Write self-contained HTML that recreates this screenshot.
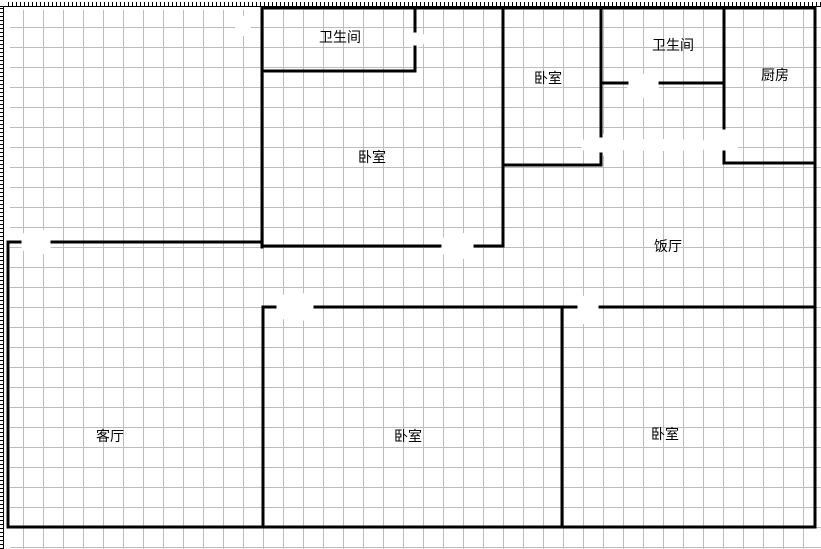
<!DOCTYPE html>
<html><head><meta charset="utf-8"><style>
html,body{margin:0;padding:0;background:#fff;}
svg{display:block;}
text{font-family:"Liberation Sans","Noto Sans CJK SC",sans-serif;font-size:14px;fill:#000;}
</style></head><body>
<svg width="821" height="549" xmlns="http://www.w3.org/2000/svg">
<defs>
<pattern id="g" x="3" y="7" width="20" height="20" patternUnits="userSpaceOnUse">
<path d="M0 0.5H20M0.5 0V20" stroke="#bdbdbd" stroke-width="1" fill="none"/>
</pattern>
<pattern id="rt" x="0" y="0" width="4" height="8" patternUnits="userSpaceOnUse">
<rect x="0" y="2" width="1" height="5" fill="#000"/>
</pattern>
<pattern id="rl" x="0" y="0" width="8" height="4" patternUnits="userSpaceOnUse">
<rect x="0" y="0" width="4" height="1" fill="#000"/>
</pattern>
</defs>
<rect width="821" height="549" fill="#fff"/>
<rect x="10" y="10" width="811" height="539" fill="url(#g)"/>
<g fill="#fff">
<ellipse cx="36" cy="242" rx="16" ry="14"/>
<ellipse cx="457" cy="246" rx="17" ry="14"/>
<ellipse cx="295" cy="307" rx="20" ry="15"/>
<ellipse cx="588" cy="310" rx="14" ry="15"/>
<ellipse cx="643" cy="86" rx="16" ry="12"/>
<ellipse cx="601" cy="145" rx="20" ry="11"/>
<ellipse cx="660" cy="145" rx="70" ry="6"/>
<ellipse cx="724" cy="140" rx="18" ry="12"/>
<ellipse cx="415" cy="39" rx="10" ry="9"/>
<ellipse cx="243" cy="26" rx="8" ry="10"/>
</g>
<rect x="6" y="0" width="815" height="7" fill="url(#rt)"/>
<rect x="0" y="6" width="821" height="1" fill="#000"/>
<rect x="0" y="6" width="4" height="543" fill="url(#rl)"/>
<rect x="3" y="6" width="1" height="543" fill="#000"/>
<g stroke="#000" stroke-width="3" fill="none" stroke-linecap="square">
<path d="M262 8H815V527H8V242"/>
<path d="M8 242H20M52 242H262"/>
<path d="M262 8V247M263 307V527"/>
<path d="M262 71H415V47M415 31V8"/>
<path d="M262 246H440M475 246H503V8"/>
<path d="M503 165H601V154M601 136V8"/>
<path d="M601 83H627M660 83H724"/>
<path d="M724 8V128M724 152V163H815"/>
<path d="M263 307H275M315 307H576M600 307H815"/>
<path d="M562 307V527"/>
</g>
<text x="319" y="42">卫生间</text>
<text x="358" y="162">卧室</text>
<text x="534" y="83">卧室</text>
<text x="652" y="50">卫生间</text>
<text x="761" y="80">厨房</text>
<text x="654" y="251">饭厅</text>
<text x="96" y="441">客厅</text>
<text x="394" y="441">卧室</text>
<text x="651" y="439">卧室</text>
</svg>
</body></html>
